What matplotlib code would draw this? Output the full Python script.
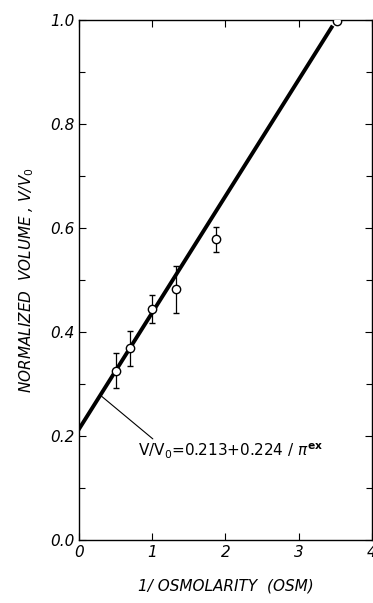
import numpy as np
import matplotlib.pyplot as plt
from matplotlib.ticker import MultipleLocator

# data
inv_osm = [0.5, 0.7, 1.0, 1.33, 1.87, 3.53]
vol = [0.325, 0.368, 0.443, 0.482, 0.578, 0.998]
vol_err = [0.034, 0.033, 0.027, 0.045, 0.024, 0.0]

# fit: V/V0 = 0.213 + 0.224 / pi_ex
intercept = 0.213
slope = 0.224
fit_x = np.array([0.0, 3.45])

x_ticks = [0, 1, 2, 3, 4]
x_labels = ['0', '1', '2', '3', '4']
y_ticks = [0.0, 0.2, 0.4, 0.6, 0.8, 1.0]
y_labels = ['0.0', '0.2', '0.4', '0.6', '0.8', '1.0']

fig = plt.figure(figsize=(3.73, 6.03), dpi=100)
ax = fig.add_axes([0.212, 0.105, 0.785, 0.862])

ax.plot(fit_x, intercept + slope * fit_x, color='black', lw=2.8, zorder=2)
ax.errorbar(inv_osm, vol, yerr=vol_err, fmt='o', mfc='white', mec='black',
            ecolor='black', ms=6, mew=1.0, elinewidth=0.9, capsize=2.5,
            capthick=0.9, zorder=3)

ax.annotate(r'V/V$_0$=0.213+0.224 / $\pi^{\mathbf{ex}}$',
            xy=(0.29, intercept + slope * 0.29), xytext=(0.8, 0.17),
            fontsize=11, va='center', ha='left',
            arrowprops=dict(arrowstyle='-', color='black', lw=0.8,
                            shrinkA=0, shrinkB=0, relpos=(0.1, 1.0)))

ax.set_xlim(0, 4)
ax.set_ylim(0, 1.0)
ax.set_xticks(x_ticks)
ax.set_xticklabels(x_labels, fontstyle='italic')
ax.set_yticks(y_ticks)
ax.set_yticklabels(y_labels, fontstyle='italic')
ax.yaxis.set_minor_locator(MultipleLocator(0.1))
ax.tick_params(which='both', direction='in', top=True, right=True,
               labelsize=11, width=0.8)
ax.tick_params(which='major', length=5)
ax.tick_params(which='minor', length=4)

ax.set_xlabel('1/ OSMOLARITY  (OSM)', fontsize=11, fontstyle='italic', labelpad=14)
ax.set_ylabel(r'NORMALIZED  VOLUME , V/V$_0$', fontsize=11, fontstyle='italic',
              labelpad=10)

for s in ax.spines.values():
    s.set_linewidth(1.0)

plt.savefig('out.png', dpi=100)
